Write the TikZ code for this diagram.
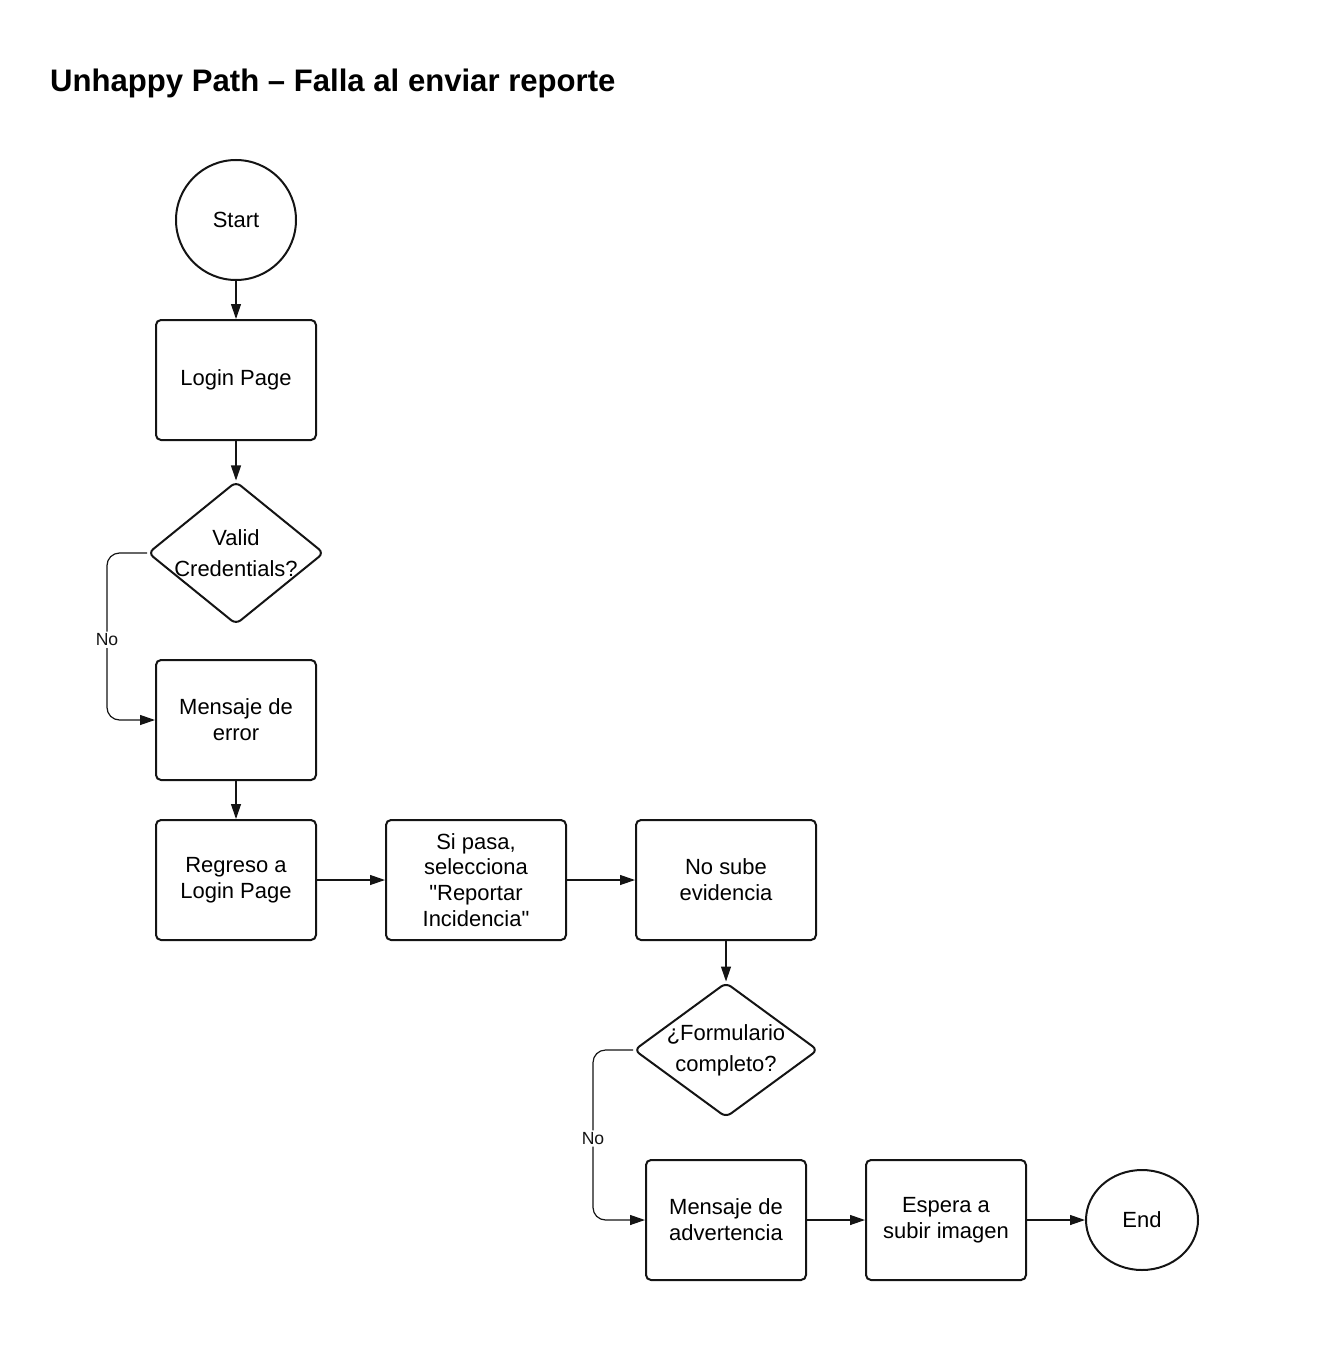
\documentclass[tikz,border=0pt]{standalone}
\usepackage{fontspec}
\setmainfont{Liberation Sans}
\usetikzlibrary{arrows.meta, shapes.geometric}

\begin{document}
\begin{tikzpicture}
\definecolor{line_color}{RGB}{20,20,20}
\tikzset{
  process_box/.style={draw=line_color, line width=0.04cm, rounded corners=0.1cm, minimum width=3.2cm, minimum height=2.4cm, align=center, font=\fontsize{12.5}{14.7}\selectfont},
  terminal_box/.style={draw=line_color, line width=0.04cm, circle, minimum size=2.4cm, font=\fontsize{12.5}{14.7}\selectfont},
  decision_box/.style={draw=line_color, line width=0.04cm, diamond, rounded corners=0.12cm, inner sep=0cm},
  flow/.style={line_color, line width=0.024cm, -{Triangle[length=0.3cm, width=0.2cm]}},
  no_label/.style={fill=white, inner sep=0.04cm, font=\fontsize{10}{12}\selectfont}
}
\useasboundingbox (0,0) rectangle (26.36,-27.2);

\node[anchor=base west, font=\bfseries\fontsize{17.7}{20}\selectfont] (title) at (0.88,-1.84) {Unhappy Path -- Falla al enviar reporte};

\node[terminal_box] (start) at (4.72,-4.40) {Start};
\node[process_box] (login) at (4.72,-7.60) {Login Page};
\node[decision_box, minimum width=3.52cm, minimum height=2.86cm, label={[align=center, font=\fontsize{12.5}{17.5}\selectfont]center:{Valid\\Credentials?}}] (valid) at (4.72,-11.06) {};
\node[process_box] (error) at (4.72,-14.40) {Mensaje de\\error};
\node[process_box] (regreso) at (4.72,-17.60) {Regreso a\\Login Page};
\node[process_box, minimum width=3.6cm] (reportar) at (9.52,-17.60) {Si pasa,\\selecciona\\\textquotedbl Reportar\\Incidencia\textquotedbl};
\node[process_box, minimum width=3.6cm] (evidencia) at (14.52,-17.60) {No sube\\evidencia};
\node[decision_box, minimum width=3.68cm, minimum height=2.70cm, label={[align=center, font=\fontsize{12.5}{17.5}\selectfont]center:{¿Formulario\\completo?}}] (formulario) at (14.52,-21.00) {};
\node[process_box] (advertencia) at (14.52,-24.40) {Mensaje de\\advertencia};
\node[process_box] (espera) at (18.92,-24.40) {Espera a\\subir imagen};
\node[terminal_box, ellipse, minimum width=2.24cm, minimum height=2.0cm] (end) at (22.84,-24.40) {End};

\draw[flow] (start) -- (login);
\draw[flow] (login) -- (valid);
\draw[flow, rounded corners=0.25cm] (valid.west) -- ++(-0.8,0) |- (error.west) node[no_label, pos=0.26] {No};
\draw[flow] (error) -- (regreso);
\draw[flow] (regreso) -- (reportar);
\draw[flow] (reportar) -- (evidencia);
\draw[flow] (evidencia) -- (formulario);
\draw[flow, rounded corners=0.25cm] (formulario.west) -- ++(-0.8,0) |- (advertencia.west) node[no_label, pos=0.26] {No};
\draw[flow] (advertencia) -- (espera);
\draw[flow] (espera) -- (end);

\end{tikzpicture}
\end{document}
